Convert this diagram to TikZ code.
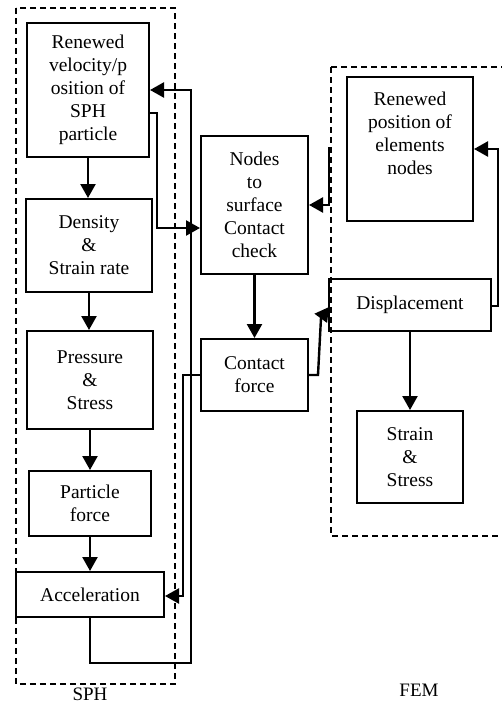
\documentclass[tikz,border=0pt]{standalone}
\usepackage{fontspec}
\setmainfont{Liberation Serif}
\usetikzlibrary{arrows.meta,calc}
\begin{document}
\begin{tikzpicture}[x=1pt,y=-1pt,
  box/.style={draw,line width=2pt,align=center,inner sep=0pt,font=\fontsize{19.5}{23}\selectfont},
  conn/.style={line width=2.4pt},
  arr/.style={conn,-{Triangle[length=14pt,width=15pt]}},
  grp/.style={draw,line width=1.3pt,dash pattern=on 6pt off 4pt},
  lbl/.style={inner sep=0pt,font=\fontsize{19}{22}\selectfont}]
\useasboundingbox (0,0) rectangle (502,704);
% groups
\draw[grp] (16,8) rectangle (175,684);
\draw[grp] (331,67) rectangle (540,536);
% SPH boxes
\node[box,minimum width=122pt,minimum height=134pt] (rv) at (88,90) {Renewed\\velocity/p\\osition of\\SPH\\particle};
\node[box,minimum width=126pt,minimum height=93pt] (den) at (89,245.5) {Density\\\&\\Strain rate};
\node[box,minimum width=126pt,minimum height=98pt] (pre) at (90,380) {Pressure\\\&\\Stress};
\node[box,minimum width=122pt,minimum height=65pt] (pf) at (90,503.5) {Particle\\force};
\node[box,minimum width=148pt,minimum height=45pt] (acc) at (90,594.5) {Acceleration};
% contact boxes
\node[box,minimum width=107pt,minimum height=138pt] (nod) at (254.5,205) {Nodes\\to\\surface\\Contact\\check};
\node[box,minimum width=107pt,minimum height=72pt] (cf) at (254.5,375) {Contact\\force};
% FEM boxes
\node[box,minimum width=126pt,minimum height=144pt] (rp) at (410,149) {};
\node[box,draw=none] (rptext) at (410,133) {Renewed\\position of\\elements\\nodes};
\node[box,minimum width=162pt,minimum height=52pt] (disp) at (410,305) {Displacement};
\node[box,minimum width=106pt,minimum height=92pt] (ss) at (410,457) {Strain\\\&\\Stress};
% labels
\node[lbl] (sph) at (90,694.5) {SPH};
\node[lbl] (fem) at (419,690) {FEM};
% coordinates
\coordinate (a1) at (191,663);
\coordinate (a2) at (191,90);
\coordinate (b1) at (157,113);
\coordinate (b2) at (157,228);
\coordinate (c1) at (183,375);
\coordinate (c2) at (183,596);
\coordinate (d1) at (318,375);
\coordinate (d2) at (321,318);
\coordinate (d3) at (329,307);
\coordinate (e1) at (498,306);
\coordinate (e2) at (498,149);
\coordinate (f0) at (331,148);
\coordinate (f1) at (329,148);
\coordinate (f2) at (329,205);
% SPH chain
\draw[arr] (rv.south) -- (rv.south |- den.north);
\draw[arr] (den.south) -- (den.south |- pre.north);
\draw[arr] (pre.south) -- (pre.south |- pf.north);
\draw[arr] (pf.south) -- (pf.south |- acc.north);
\draw[arr] (acc.south) |- (a1) -- (a2) -- (rv.east);
\draw[arr] (rv.east |- b1) -- (b1) -- (b2) -- (nod.west |- b2);
\draw[arr] (nod.south) -- (cf.north);
\draw[arr] (cf.west |- c1) -- (c1) -- (c2) -- (acc.east |- c2);
\draw[arr] (cf.east |- d1) -- (d1) -- (d2) -- (d3);
\draw[arr] (disp.south) -- (ss.north);
\draw[arr] (disp.east |- e1) -- (e1) -- (e2) -- (rp.east);
\draw[arr] (f0) -- (f1) -- (f2) -- (nod.east);
\end{tikzpicture}
\end{document}
